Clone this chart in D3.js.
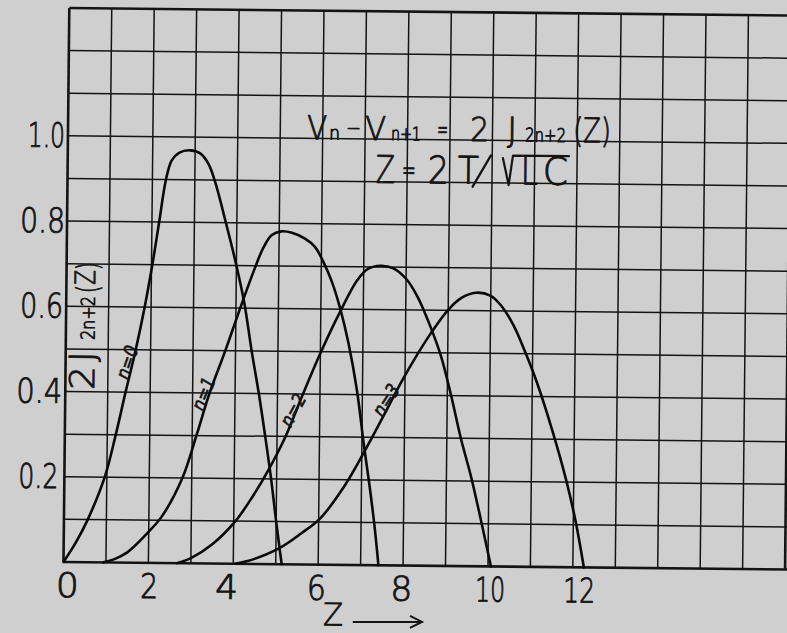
<!DOCTYPE html>
<html><head><meta charset="utf-8">
<script src="https://cdn.jsdelivr.net/npm/d3@7"></script>
<style>
html,body{margin:0;padding:0;background:#cfcfcf;}
svg{display:block;}
</style></head>
<body>
<svg id="chart" width="787" height="633"></svg>
<script>
// ---- data ----
const zTicks = [0, 2, 4, 6, 8, 10, 12];
const vTicks = [0.2, 0.4, 0.6, 0.8, 1.0];
const seriesNames = ["n=0", "n=1", "n=2", "n=3"];

const z0 = [0, 0.28, 0.56, 0.95, 1.2, 1.42, 1.65, 1.85, 2.02, 2.17, 2.32, 2.45, 2.62, 2.88, 3.12, 3.32, 3.48, 3.75, 4.0, 4.2, 4.38, 4.56, 4.72, 4.87, 5.0, 5.14];
const v0 = [0, 0.045, 0.10, 0.20, 0.30, 0.40, 0.50, 0.60, 0.70, 0.80, 0.90, 0.945, 0.963, 0.969, 0.962, 0.937, 0.895, 0.797, 0.70, 0.61, 0.50, 0.40, 0.30, 0.20, 0.10, 0];

const z1 = [0.94, 1.2, 1.5, 2.0, 2.31, 2.78, 3.1, 3.4, 3.76, 4.1, 4.42, 4.62, 4.82, 5.05, 5.3, 5.6, 5.85, 6.05, 6.25, 6.46, 6.66, 6.87, 7.05, 7.2, 7.32, 7.42];
const v1 = [0, 0.008, 0.024, 0.073, 0.11, 0.20, 0.30, 0.40, 0.50, 0.60, 0.69, 0.74, 0.772, 0.781, 0.778, 0.765, 0.745, 0.71, 0.665, 0.60, 0.52, 0.41, 0.28, 0.18, 0.09, 0];

const z2 = [2.67, 3.0, 3.5, 4.04, 4.45, 4.8, 5.2, 5.6, 6.0, 6.45, 6.85, 7.1, 7.4, 7.7, 8.0, 8.27, 8.55, 8.84, 9.09, 9.33, 9.58, 9.82, 10.07];
const v2 = [0, 0.012, 0.045, 0.10, 0.16, 0.22, 0.30, 0.40, 0.496, 0.593, 0.668, 0.695, 0.703, 0.697, 0.673, 0.632, 0.57, 0.493, 0.40, 0.30, 0.21, 0.11, 0];

const z3 = [4.05, 4.5, 5.07, 5.58, 6.05, 6.6, 7.07, 7.5, 7.9, 8.25, 8.6, 8.99, 9.3, 9.65, 10.0, 10.25, 10.55, 10.82, 11.1, 11.5, 11.82, 12.05, 12.26];
const v3 = [0, 0.012, 0.037, 0.072, 0.11, 0.185, 0.268, 0.35, 0.428, 0.49, 0.546, 0.60, 0.629, 0.642, 0.635, 0.612, 0.565, 0.505, 0.435, 0.315, 0.205, 0.11, 0];

// ---- layout / style ----
const W = 721.6, H = 554;
const INK = "#141414";
const FONT = "'DejaVu Sans', 'Liberation Sans', sans-serif";
// hand-lettered label widths and small offsets (px)
const yLabW = {"0.2": 40, "0.4": 46, "0.6": 43, "0.8": 45, "1.0": 37};
const yLabPad = {"0.2": 6, "0.4": 3, "0.6": 3, "0.8": 2, "1.0": 3};
const xLabW = {0: 23, 2: 18, 4: 23, 6: 19, 8: 22, 10: 30, 12: 32};
const xLabNudge = {0: 3.5, 2: 0.5, 4: -7, 6: -2, 8: -2, 10: 2, 12: 6};

const svg = d3.select("#chart");
svg.append("rect").attr("width", 787).attr("height", 633).attr("fill", "#cfcfcf");

const g = svg.append("g").attr("transform", "translate(69.3,8) rotate(0.6)");

const x = d3.scaleLinear().domain([0, 17]).range([0, W]);
const y = d3.scaleLinear().domain([0, 1.3]).range([H, 0]);

function ink(sel, sw) {
  return sel.attr("font-family", FONT).attr("font-weight", 200)
    .attr("fill", INK).attr("stroke", INK).attr("stroke-width", sw).attr("stroke-linejoin", "round");
}

// grid
const gx = d3.range(0, 19);
const gy = d3.range(0, 14).map(k => k / 10);
g.append("g").selectAll("line").data(gx).join("line")
  .attr("x1", d => x(d)).attr("x2", d => x(d))
  .attr("y1", y(0)).attr("y2", y(1.3))
  .attr("stroke", INK)
  .attr("stroke-width", d => (d === 0 || d === 17) ? 2.6 : 1.5);
g.append("g").selectAll("line").data(gy).join("line")
  .attr("x1", x(0)).attr("x2", x(18))
  .attr("y1", d => y(d)).attr("y2", d => y(d))
  .attr("stroke", INK)
  .attr("stroke-width", (d, i) => (i === 0 || i === 13) ? 2.6 : 1.5);

// axes (labels only)
const fmtY = d3.format(".1f");
const yAxis = d3.axisLeft(y).tickValues(vTicks).tickFormat(fmtY).tickSize(0).tickPadding(0);
const ya = g.append("g").call(yAxis);
ya.select(".domain").remove();
ink(ya.selectAll("text").attr("font-size", 34), 0.9)
  .attr("text-anchor", "start")
  .attr("x", d => -(yLabW[fmtY(d)] + yLabPad[fmtY(d)]))
  .attr("textLength", d => yLabW[fmtY(d)]).attr("lengthAdjust", "spacingAndGlyphs");

const xAxis = d3.axisBottom(x).tickValues(zTicks).tickFormat(d3.format("d")).tickSize(0).tickPadding(11);
const xa = g.append("g").attr("transform", `translate(0,${H})`).call(xAxis);
xa.select(".domain").remove();
ink(xa.selectAll("text").attr("font-size", 34), 0.9)
  .attr("text-anchor", "start")
  .attr("x", d => -xLabW[d] / 2 + xLabNudge[d])
  .attr("textLength", d => xLabW[d]).attr("lengthAdjust", "spacingAndGlyphs");

// curves
const series = [
  {name: seriesNames[0], z: z0, v: v0},
  {name: seriesNames[1], z: z1, v: v1},
  {name: seriesNames[2], z: z2, v: v2},
  {name: seriesNames[3], z: z3, v: v3}
];
const line = d3.line().x(d => x(d[0])).y(d => y(d[1])).curve(d3.curveCatmullRom.alpha(0.5));
g.append("g").selectAll("path").data(series).join("path")
  .attr("d", s => line(s.z.map((zz, i) => [zz, s.v[i]])))
  .attr("fill", "none").attr("stroke", "#0a0a0a").attr("stroke-width", 2.6)
  .attr("stroke-linejoin", "round").attr("stroke-linecap", "round");

// curve labels
const labelPos = [
  {z: 1.45, v: 0.47, a: -72},
  {z: 3.25, v: 0.398, a: -69},
  {z: 5.37, v: 0.362, a: -62},
  {z: 7.56, v: 0.388, a: -58}
];
ink(g.append("g").selectAll("text").data(series).join("text")
  .attr("transform", (s, i) => `translate(${x(labelPos[i].z)},${y(labelPos[i].v)}) rotate(${labelPos[i].a})`)
  .attr("text-anchor", "start").attr("x", -17).attr("dy", "0.35em")
  .attr("font-style", "italic").attr("font-size", 19), 0.6)
  .attr("textLength", 34).attr("lengthAdjust", "spacingAndGlyphs")
  .text(s => s.name);

// one text element per lettered line, pieces as tspans
function lettered(parent, items, sw) {
  const t = ink(parent.append("text"), sw);
  items.forEach(it => {
    const ts = t.append("tspan").attr("x", it[0]).attr("y", it[1])
      .attr("font-size", it[3]).text(it[2]);
    if (it[4]) ts.attr("textLength", it[4]).attr("lengthAdjust", "spacingAndGlyphs");
  });
  return t;
}

// title line 1: Vn − Vn+1 = 2 J2n+2(Z)
const t1 = g.append("g").attr("transform", `translate(${x(5.63)},${y(1.0) + 1})`);
lettered(t1, [
  [0, 0, "V", 33, 20],
  [22, 0, "n", 19, 11],
  [39, -5, "\u2212", 20, 15],
  [58, 0, "V", 33, 21],
  [84, 0, "n+1", 19, 30],
  [130, -2, "=", 28, 11],
  [163, 0, "2", 33, 19],
  [200, 0, "J", 34],
  [218, 0, "2n+2", 19, 41],
  [266, 0, "(Z)", 34, 38]
], 0.9);

// title line 2: Z = 2 T/√LC
const t2 = g.append("g").attr("transform", `translate(${x(7.26)},${y(0.9) + 1})`);
lettered(t2, [
  [0, 0, "Z", 38, 19],
  [26, -3, "=", 30, 14],
  [52, 0, "2", 38, 21],
  [82, 0, "T", 38, 21],
  [145, 0, "L", 38, 17],
  [167, 0, "C", 38, 25]
], 1.0);
// slash and radical strokes
t2.append("line").attr("x1", 97).attr("y1", 3).attr("x2", 115).attr("y2", -28.5)
  .attr("stroke", INK).attr("stroke-width", 2.3).attr("stroke-linecap", "round");
t2.append("path").attr("d", "M127,-26 L133,1 L137,-28.5 L193,-28.5")
  .attr("fill", "none").attr("stroke", INK).attr("stroke-width", 2.2)
  .attr("stroke-linejoin", "round").attr("stroke-linecap", "round");

// y axis title: 2 J2n+2(Z), rotated
const yt = g.append("g").attr("transform", `translate(${x(0.676)},${y(0.404)}) rotate(-90)`);
lettered(yt, [
  [0, 0, "2", 34, 24],
  [28, 0, "J", 35],
  [50, 0, "2n+2", 19, 44],
  [97, 3, "(", 30, 8],
  [105, 0, "Z", 28, 15],
  [120, 3, ")", 30, 8]
], 0.9);

// x axis title: Z →
const xt = g.append("g");
lettered(xt, [[x(6.13), y(-0.142), "Z", 31, 20]], 0.9);
xt.append("line").attr("x1", x(6.83)).attr("x2", x(8.46))
  .attr("y1", y(-0.134)).attr("y2", y(-0.132))
  .attr("stroke", INK).attr("stroke-width", 2);
xt.append("polyline")
  .attr("points", `${x(8.46) - 12},${y(-0.132) - 6} ${x(8.46)},${y(-0.132)} ${x(8.46) - 12},${y(-0.132) + 6}`)
  .attr("fill", "none").attr("stroke", INK).attr("stroke-width", 2);
</script>
</body></html>
